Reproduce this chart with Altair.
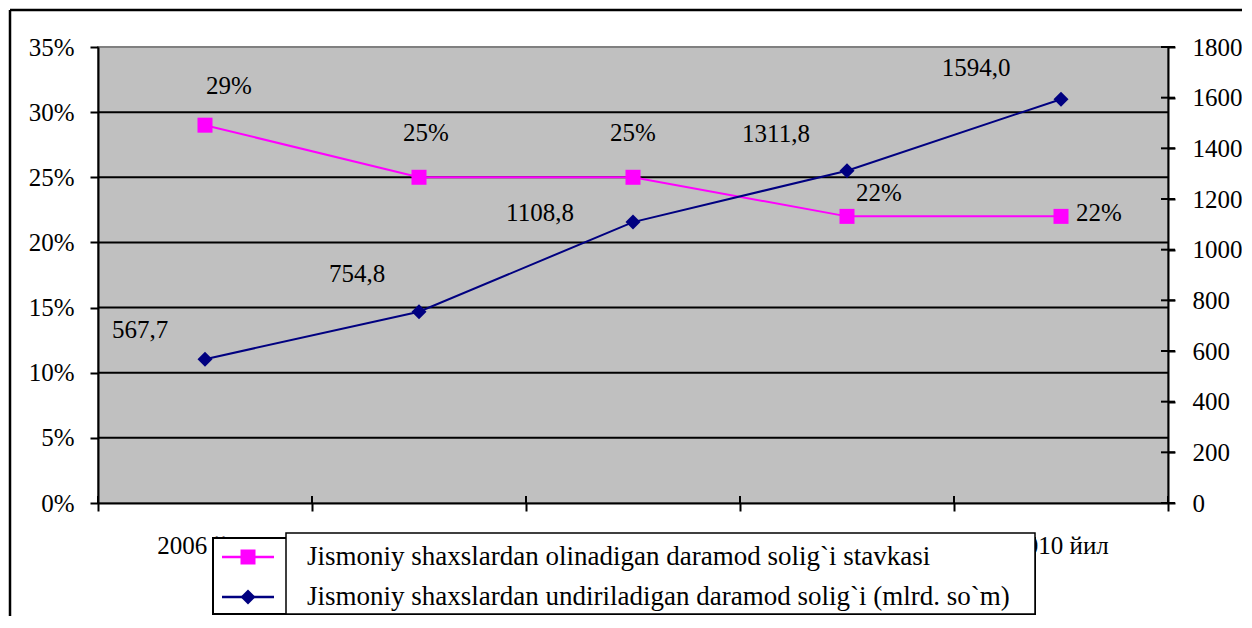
import altair as alt
import pandas as pd

# ---- data ----
years = [2006, 2007, 2008, 2009, 2010]
year_labels = ["2006 йил", "2007 йил", "2008 йил", "2009 йил", "2010 йил"]
rate = [0.29, 0.25, 0.25, 0.22, 0.22]
rate_labels = ["29%", "25%", "25%", "22%", "22%"]
amount = [567.7, 754.8, 1108.8, 1311.8, 1594.0]
amount_labels = ["567,7", "754,8", "1108,8", "1311,8", "1594,0"]
left_ticks = [0, 0.05, 0.10, 0.15, 0.20, 0.25, 0.30, 0.35]
right_ticks = [0, 200, 400, 600, 800, 1000, 1200, 1400, 1600, 1800]
series_names = [
    "Jismoniy shaxslardan olinadigan daramod solig`i stavkasi",
    "Jismoniy shaxslardan undiriladigan daramod solig`i (mlrd. so`m)",
]

# ---- label offsets (style) ----
rate_dx = [24, 7, 0, 32, 38]
rate_dy = [-39, -44, -44, -23, -3]
amount_dx = [-65, -62, -93, -71, -85]
amount_dy = [-29, -38, -9, -37, -31]

W, H = 1070, 456
FONT = "Liberation Serif"
FS = 25
LFS = 27
PINK = "#FF00FF"
NAVY = "#000080"

df = pd.DataFrame({"year": years, "ylabel": year_labels, "rate": rate,
                   "rlabel": rate_labels, "amount": amount, "alabel": amount_labels})
bounds = [y - 0.5 for y in years] + [years[-1] + 0.5]
df_bounds = pd.DataFrame({"b": bounds})
df_grid = pd.DataFrame({"g": left_ticks[1:-1]})
df_rt = pd.DataFrame({"t": right_ticks})
one = pd.DataFrame({"k": [0]})

xscale = alt.Scale(domain=[bounds[0], bounds[-1]], nice=False, zero=False)
xaxis = alt.Axis(values=bounds, labels=False, title=None, tickSize=8, tickWidth=2,
                 tickColor="black", domainColor="black", domainWidth=2, grid=False)


def X(field):
    return alt.X(field, type="quantitative", scale=xscale, axis=xaxis)


lscale = alt.Scale(domain=[0, 0.35], nice=False, zero=True)
laxis = alt.Axis(values=left_ticks, format=".0%", orient="left", title=None,
                 tickSize=8, tickWidth=2, tickColor="black", domainColor="black",
                 domainWidth=2, labelPadding=16, grid=False,
                 labelFont=FONT, labelFontSize=FS, labelColor="black")
rscale = alt.Scale(domain=[0, 1800], nice=False, zero=True)
raxis = alt.Axis(values=right_ticks, format="d", orient="right", title=None,
                 tickSize=7, tickWidth=2, tickColor="black", domainColor="black",
                 domainWidth=2, labelPadding=17, grid=False,
                 labelFont=FONT, labelFontSize=FS, labelColor="black")


def YL(field):
    return alt.Y(field, type="quantitative", scale=lscale, axis=laxis)


def YR(field):
    return alt.Y(field, type="quantitative", scale=rscale, axis=raxis)


# ---- left (rate) group ----
grid = alt.Chart(df_grid).mark_rule(color="black", strokeWidth=2).encode(y=YL("g"))
pink_line = alt.Chart(df).mark_line(color=PINK, strokeWidth=2).encode(x=X("year"), y=YL("rate"))
pink_pts = alt.Chart(df).mark_point(shape="square", filled=True, size=225, color=PINK,
                                    opacity=1).encode(x=X("year"), y=YL("rate"))
pink_txt = []
for i, yr in enumerate(years):
    pink_txt.append(
        alt.Chart(df).transform_filter(alt.datum.year == yr)
        .mark_text(font=FONT, fontSize=FS, color="black", dx=rate_dx[i], dy=rate_dy[i],
                   align="center", baseline="middle")
        .encode(x=X("year"), y=YL("rate"), text="rlabel:N")
    )
left = alt.layer(grid, pink_line, pink_pts, *pink_txt)

# ---- right (amount) group ----
rticks = alt.Chart(df_rt).mark_rule(color="black", strokeWidth=2).encode(
    y=YR("t"), x=alt.value(W - 7), x2=alt.value(W + 7))
navy_line = alt.Chart(df).mark_line(color=NAVY, strokeWidth=2).encode(x=X("year"), y=YR("amount"))
navy_pts = alt.Chart(df).mark_point(shape="diamond", filled=True, size=225, color=NAVY,
                                    opacity=1).encode(x=X("year"), y=YR("amount"))
navy_txt = []
for i, yr in enumerate(years):
    navy_txt.append(
        alt.Chart(df).transform_filter(alt.datum.year == yr)
        .mark_text(font=FONT, fontSize=FS, color="black", dx=amount_dx[i], dy=amount_dy[i],
                   align="center", baseline="middle")
        .encode(x=X("year"), y=YR("amount"), text="alabel:N")
    )
right = alt.layer(rticks, navy_line, navy_pts, *navy_txt)

# ---- decorations: x ticks, x labels, frame, legend ----
xticks_in = alt.Chart(df_bounds).mark_rule(color="black", strokeWidth=2).encode(
    x=X("b"), y=alt.value(H - 7), y2=alt.value(H + 1))
xlabels = alt.Chart(df).mark_text(font=FONT, fontSize=FS, color="black", align="center",
                                  baseline="alphabetic").encode(
    x=X("year"), y=alt.value(H + 51), text="ylabel:N")
frame_left = alt.Chart(one).mark_rule(color="black", strokeWidth=2.5).encode(
    x=alt.value(-88), y=alt.value(-37), y2=alt.value(H + 120))
frame_top = alt.Chart(one).mark_rule(color="black", strokeWidth=2.5).encode(
    x=alt.value(-88), x2=alt.value(W + 80), y=alt.value(-37))
boxA = alt.Chart(one).mark_rect(fill="white", stroke="black", strokeWidth=2).encode(
    x=alt.value(115), x2=alt.value(937), y=alt.value(491), y2=alt.value(567))
leg_pink_line = alt.Chart(one).mark_rule(color=PINK, strokeWidth=2.5).encode(
    x=alt.value(124), x2=alt.value(176), y=alt.value(510))
leg_pink_pt = alt.Chart(one).mark_point(shape="square", filled=True, size=225, color=PINK,
                                        opacity=1).encode(x=alt.value(150), y=alt.value(510))
leg_navy_line = alt.Chart(one).mark_rule(color=NAVY, strokeWidth=2.5).encode(
    x=alt.value(124), x2=alt.value(176), y=alt.value(550))
leg_navy_pt = alt.Chart(one).mark_point(shape="diamond", filled=True, size=225, color=NAVY,
                                        opacity=1).encode(x=alt.value(150), y=alt.value(550))
boxB = alt.Chart(one).mark_rect(fill="white", stroke="black", strokeWidth=1.5).encode(
    x=alt.value(188), x2=alt.value(937), y=alt.value(486), y2=alt.value(567))
leg_t1 = alt.Chart(one).mark_text(font=FONT, fontSize=LFS, color="black", align="left",
                                  baseline="middle").encode(
    x=alt.value(209), y=alt.value(510), text=alt.value(series_names[0]))
leg_t2 = alt.Chart(one).mark_text(font=FONT, fontSize=LFS, color="black", align="left",
                                  baseline="middle").encode(
    x=alt.value(209), y=alt.value(550), text=alt.value(series_names[1]))

deco = alt.layer(xticks_in, xlabels, frame_left, frame_top, boxA, leg_pink_line, leg_pink_pt,
                 leg_navy_line, leg_navy_pt, boxB, leg_t1, leg_t2)

chart = (
    alt.layer(left, right, deco)
    .resolve_scale(y="independent")
    .properties(width=W, height=H, background="white",
                padding={"left": 90, "top": 39, "right": 74, "bottom": 113},
                autosize=alt.AutoSizeParams(type="none"))
    .configure_view(fill="#C0C0C0", stroke="#808080", strokeWidth=2)
    .configure_axis(labelFont=FONT, labelFontSize=FS, labelColor="black")
)

chart.save("out.html", embed_options={"renderer": "svg", "actions": False})
